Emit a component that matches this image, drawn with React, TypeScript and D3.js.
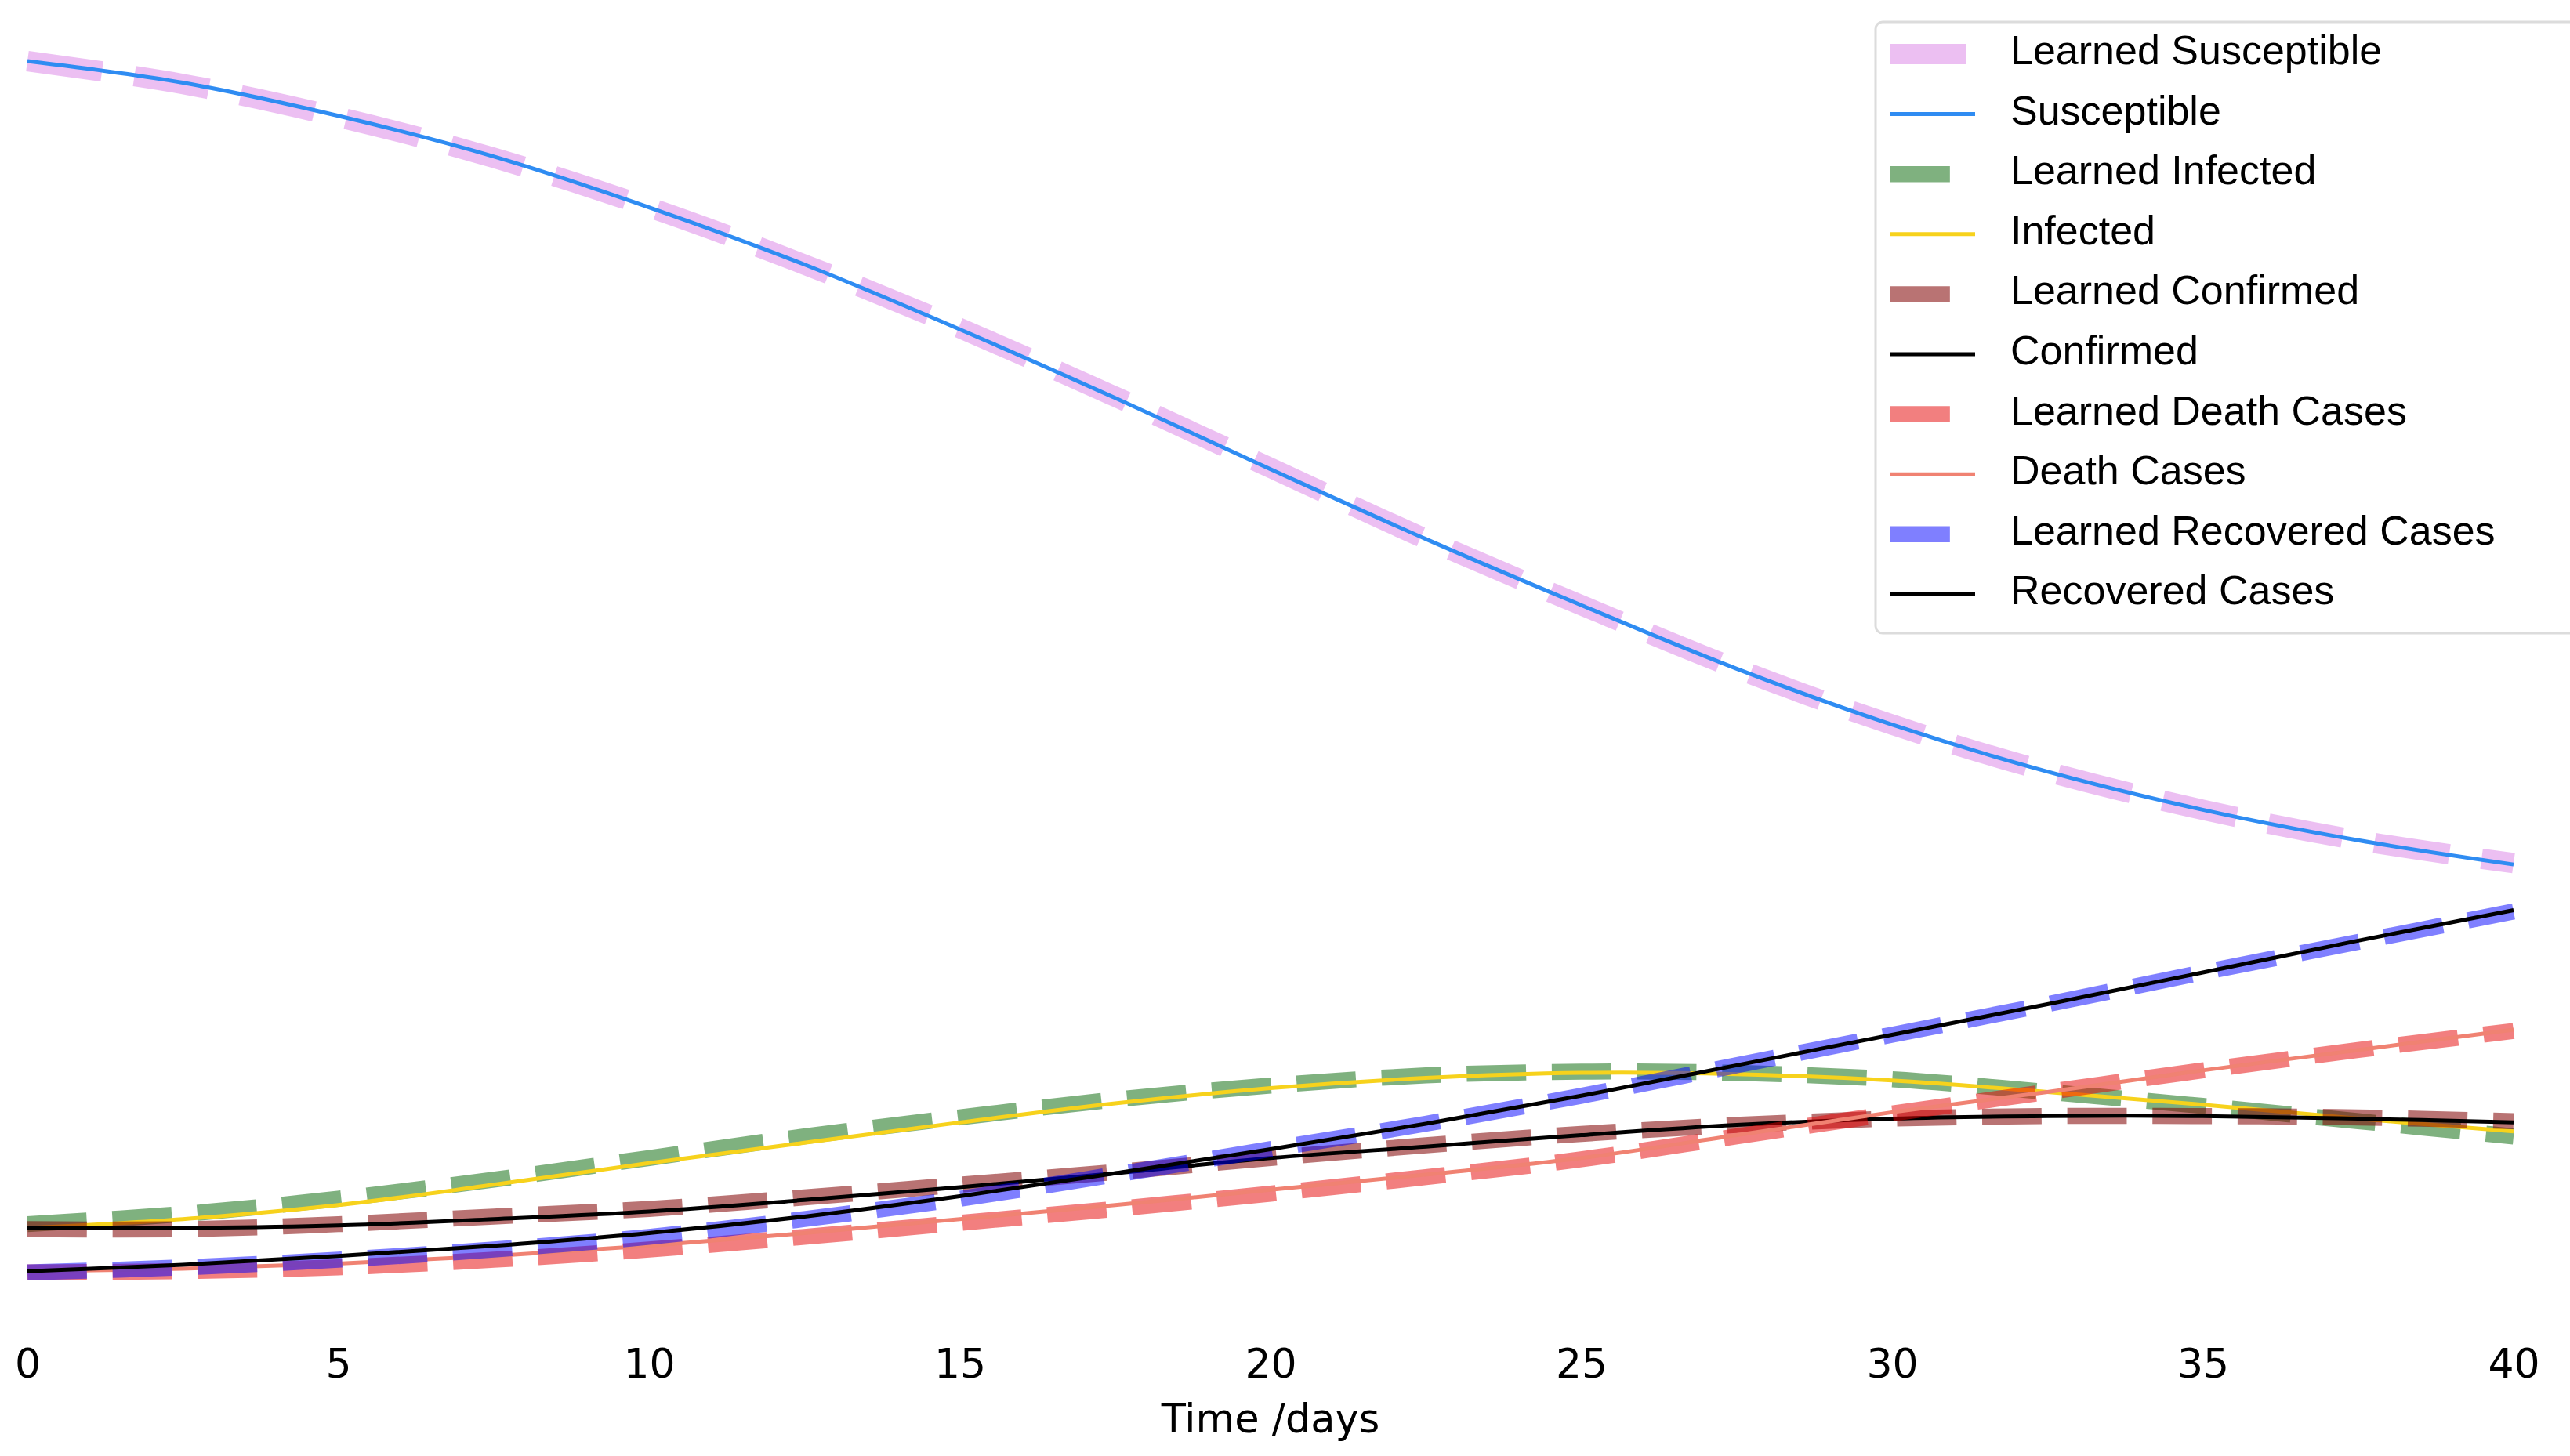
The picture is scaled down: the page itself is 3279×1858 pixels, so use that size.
import { useEffect, useRef } from 'react'
import * as d3 from 'd3'

// time axis (days), one sample every 2.5 days
const days = [0, 2.5, 5, 7.5, 10, 12.5, 15, 17.5, 20, 22.5, 25, 27.5, 30, 32.5, 35, 37.5, 40]
const xTicks = [0, 5, 10, 15, 20, 25, 30, 35, 40]

// fractions of the population
const learnedSusceptible = [1.0, 0.982, 0.956, 0.924, 0.885, 0.84, 0.79, 0.736, 0.68, 0.624, 0.572, 0.522, 0.478, 0.441, 0.411, 0.387, 0.369]
const susceptible = [1.0, 0.983, 0.957, 0.925, 0.885, 0.84, 0.789, 0.735, 0.679, 0.624, 0.572, 0.522, 0.478, 0.441, 0.411, 0.387, 0.368]
const learnedInfected = [0.085, 0.093, 0.105, 0.12, 0.137, 0.154, 0.169, 0.183, 0.194, 0.202, 0.205, 0.204, 0.199, 0.189, 0.178, 0.166, 0.154]
const infected = [0.082, 0.089, 0.1, 0.116, 0.133, 0.149, 0.165, 0.18, 0.192, 0.2, 0.204, 0.203, 0.198, 0.189, 0.179, 0.168, 0.158]
const learnedConfirmed = [0.081, 0.081, 0.085, 0.091, 0.097, 0.106, 0.116, 0.126, 0.137, 0.147, 0.156, 0.163, 0.168, 0.17, 0.17, 0.169, 0.166]
const confirmed = [0.082, 0.082, 0.084, 0.089, 0.095, 0.104, 0.114, 0.125, 0.137, 0.146, 0.155, 0.163, 0.168, 0.17, 0.17, 0.168, 0.165]
const learnedDeath = [0.047, 0.048, 0.051, 0.057, 0.065, 0.075, 0.086, 0.097, 0.109, 0.122, 0.136, 0.154, 0.172, 0.189, 0.206, 0.222, 0.237]
const death = [0.048, 0.05, 0.054, 0.06, 0.068, 0.078, 0.089, 0.1, 0.112, 0.124, 0.137, 0.155, 0.173, 0.189, 0.206, 0.222, 0.238]
const learnedRecovered = [0.047, 0.051, 0.057, 0.065, 0.075, 0.089, 0.105, 0.124, 0.144, 0.164, 0.186, 0.21, 0.234, 0.258, 0.283, 0.307, 0.331]
const recovered = [0.048, 0.053, 0.06, 0.068, 0.078, 0.091, 0.107, 0.125, 0.144, 0.164, 0.186, 0.21, 0.234, 0.258, 0.283, 0.308, 0.332]

interface Series {
  name: string
  values: number[]
  color: string
  opacity: number
  width: number
  dashed: boolean
}

// drawn in legend order (learned curve, then the data curve on top)
const series: Series[] = [
  { name: 'Learned Susceptible', values: learnedSusceptible, color: '#dc8ae8', opacity: 0.55, width: 26, dashed: true },
  { name: 'Susceptible', values: susceptible, color: '#2f8cf2', opacity: 1, width: 5, dashed: false },
  { name: 'Learned Infected', values: learnedInfected, color: '#006400', opacity: 0.5, width: 20.5, dashed: true },
  { name: 'Infected', values: infected, color: '#f7d21c', opacity: 1, width: 5, dashed: false },
  { name: 'Learned Confirmed', values: learnedConfirmed, color: '#800000', opacity: 0.55, width: 20.5, dashed: true },
  { name: 'Confirmed', values: confirmed, color: '#000000', opacity: 1, width: 5, dashed: false },
  { name: 'Learned Death Cases', values: learnedDeath, color: '#e60000', opacity: 0.5, width: 20.5, dashed: true },
  { name: 'Death Cases', values: death, color: '#f08272', opacity: 1, width: 5, dashed: false },
  { name: 'Learned Recovered Cases', values: learnedRecovered, color: '#0000ff', opacity: 0.5, width: 20.5, dashed: true },
  { name: 'Recovered Cases', values: recovered, color: '#000000', opacity: 1, width: 5, dashed: false }
]

const WIDTH = 3279
const HEIGHT = 1858

function dashArray(s: Series) {
  // matplotlib '--' pattern, scaled by line width
  return s.dashed ? `${3.7 * s.width} ${1.6 * s.width}` : null
}

export default function App() {
  const svgRef = useRef<SVGSVGElement>(null)

  useEffect(() => {
    if (!svgRef.current) return
    const svg = d3.select(svgRef.current)
    svg.selectAll('*').remove()

    const x = d3.scaleLinear().domain([0, 40]).range([35, 3207])
    const y = d3.scaleLinear().domain([0, 1]).range([1700, 78])

    const line = d3
      .line<number>()
      .x((_, i) => x(days[i]))
      .y(d => y(d))
      .curve(d3.curveCatmullRom.alpha(0.5))

    // curves
    series.forEach(s => {
      svg
        .append('path')
        .attr('d', line(s.values) || '')
        .attr('fill', 'none')
        .attr('stroke', s.color)
        .attr('stroke-opacity', s.opacity)
        .attr('stroke-width', s.width)
        .attr('stroke-dasharray', dashArray(s))
        .attr('stroke-linecap', 'butt')
        .attr('stroke-linejoin', 'round')
    })

    // x axis: labels only, no spine or tick marks
    const axis = svg
      .append('g')
      .attr('transform', 'translate(0,1758)')
      .call(d3.axisBottom(x).tickValues(xTicks).tickSize(0).tickPadding(0))
    axis.select('.domain').remove()
    axis
      .selectAll('text')
      .attr('y', 0)
      .attr('dy', null)
      .attr('fill', '#000')
      .style('font-family', '"DejaVu Sans", sans-serif')
      .style('font-size', '52px')

    svg
      .append('text')
      .attr('x', x(20))
      .attr('y', 1828)
      .attr('text-anchor', 'middle')
      .style('font-family', '"DejaVu Sans", sans-serif')
      .style('font-size', '51px')
      .text('Time /days')

    // legend
    const lg = svg.append('g')
    lg.append('rect')
      .attr('x', 2393)
      .attr('y', 28)
      .attr('width', 1000)
      .attr('height', 780)
      .attr('rx', 9)
      .attr('fill', '#fff')
      .attr('fill-opacity', 0.8)
      .attr('stroke', '#dcdcdc')
      .attr('stroke-width', 3)

    series.forEach((s, i) => {
      const cy = 69 + i * 76.6
      lg.append('line')
        .attr('x1', 2412)
        .attr('x2', 2520)
        .attr('y1', cy)
        .attr('y2', cy)
        .attr('stroke', s.color)
        .attr('stroke-opacity', s.opacity)
        .attr('stroke-width', s.width)
        .attr('stroke-dasharray', dashArray(s))
      lg.append('text')
        .attr('x', 2565)
        .attr('y', cy + 13)
        .style('font-family', '"Liberation Sans", Arial, sans-serif')
        .style('font-size', '52px')
        .attr('fill', '#000')
        .text(s.name)
    })
  }, [])

  return (
    <div>
      <style>{'body{margin:0;background:#fff}'}</style>
      <svg ref={svgRef} width={WIDTH} height={HEIGHT} style={{ display: 'block', background: '#fff' }} />
    </div>
  )
}
